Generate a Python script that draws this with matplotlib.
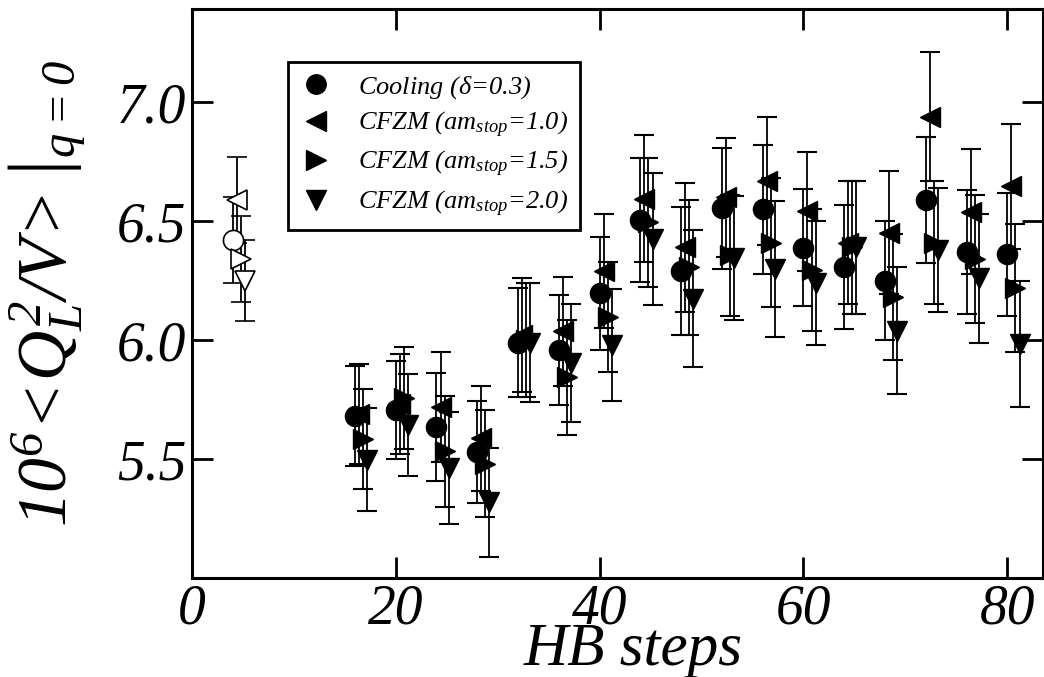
import matplotlib
matplotlib.use("Agg")
import matplotlib.pyplot as plt
from matplotlib.lines import Line2D

plt.rcParams['font.family'] = 'Liberation Serif'
plt.rcParams['font.style'] = 'italic'
plt.rcParams['mathtext.fontset'] = 'custom'
plt.rcParams['mathtext.rm'] = 'Liberation Serif:italic'
plt.rcParams['mathtext.it'] = 'Liberation Serif:italic'

# HB steps (cooling series); other series are shifted a bit to the right
steps = [16, 20, 24, 28, 32, 36, 40, 44, 48, 52, 56, 60, 64, 68, 72, 76, 80]

cool_y = [5.68, 5.707, 5.633, 5.53, 5.99, 5.959, 6.197, 6.505, 6.29, 6.554, 6.55, 6.389, 6.306, 6.25, 6.589, 6.37, 6.36]
cool_e = [0.21, 0.205, 0.227, 0.215, 0.23, 0.23, 0.237, 0.26, 0.27, 0.254, 0.27, 0.247, 0.26, 0.25, 0.265, 0.26, 0.26]

am10_y = [5.69, 5.73, 5.718, 5.587, 6.02, 6.037, 6.29, 6.595, 6.39, 6.6, 6.67, 6.542, 6.41, 6.452, 6.94, 6.54, 6.647]
am10_e = [0.21, 0.21, 0.232, 0.22, 0.24, 0.23, 0.24, 0.266, 0.27, 0.25, 0.27, 0.25, 0.26, 0.257, 0.27, 0.263, 0.263]

am15_y = [5.584, 5.758, 5.533, 5.48, 6.0, 5.843, 6.097, 6.495, 6.307, 6.357, 6.41, 6.295, 6.39, 6.183, 6.41, 6.342, 6.22]
am15_e = [0.21, 0.215, 0.233, 0.225, 0.24, 0.24, 0.233, 0.27, 0.284, 0.255, 0.27, 0.255, 0.28, 0.265, 0.26, 0.27, 0.27]

am20_y = [5.498, 5.643, 5.464, 5.318, 5.99, 5.904, 5.98, 6.426, 6.175, 6.345, 6.30, 6.239, 6.39, 6.04, 6.38, 6.26, 5.985]
am20_e = [0.216, 0.216, 0.236, 0.228, 0.25, 0.25, 0.237, 0.277, 0.29, 0.26, 0.285, 0.26, 0.28, 0.267, 0.26, 0.27, 0.265]

# separate point at 4 steps (open symbols)
open_x = 4
open_y = [6.42, 6.59, 6.34, 6.25]
open_e = [0.18, 0.18, 0.18, 0.17]

shifts = [0.0, 0.4, 0.8, 1.2]
markers = ['o', '<', '>', 'v']
labels = [r'Cooling ($\delta$=0.3)',
          r'CFZM ($am_{stop}$=1.0)',
          r'CFZM ($am_{stop}$=1.5)',
          r'CFZM ($am_{stop}$=2.0)']
ys = [cool_y, am10_y, am15_y, am20_y]
es = [cool_e, am10_e, am15_e, am20_e]

fig = plt.figure(figsize=(10.44, 6.77), dpi=100)
ax = fig.add_axes([0.1837, 0.1462, 0.8153, 0.8398])

for i in range(4):
    xs = [s + shifts[i] for s in steps]
    ax.errorbar(xs, ys[i], yerr=es[i], fmt=markers[i], color='black', ms=14.5,
                elinewidth=1.3, capsize=7.5, capthick=1.5)
    ax.errorbar([open_x + shifts[i]], [open_y[i]], yerr=[open_e[i]], fmt=markers[i],
                mfc='white', mec='black', color='black', ms=14.5, mew=1.2,
                elinewidth=1.3, capsize=7.5, capthick=1.5)

ax.set_xlim(0, 83.5)
ax.set_ylim(5.0, 7.39)
ax.set_xticks([0, 20, 40, 60, 80])
ax.set_yticks([5.5, 6.0, 6.5, 7.0])
ax.set_yticklabels(['5.5', '6.0', '6.5', '7.0'])
ax.tick_params(direction='in', length=15, width=2, top=True, right=True,
               labelsize=40, pad=4)
for sp in ax.spines.values():
    sp.set_linewidth(2.2)

ax.set_xlabel('HB steps', fontsize=44)
ax.xaxis.set_label_coords(0.518, -0.078)
ax.set_ylabel(r'$\left.10^6\!<\!Q_L^2/V\!>\right|_{q=0}$', fontsize=50)
ax.yaxis.set_label_coords(-0.122, 0.5)

handles = [Line2D([], [], ls='none', marker=m, color='black', ms=14) for m in markers]
leg = ax.legend(handles, labels, loc='upper left', bbox_to_anchor=(0.113, 0.908), fontsize=19,
                frameon=True, fancybox=False, edgecolor='black', framealpha=1,
                borderaxespad=0, handletextpad=1.0, labelspacing=0.35, borderpad=0.45,
                handlelength=1.2)
leg.get_frame().set_linewidth(2)

fig.savefig('out.png', dpi=100)
